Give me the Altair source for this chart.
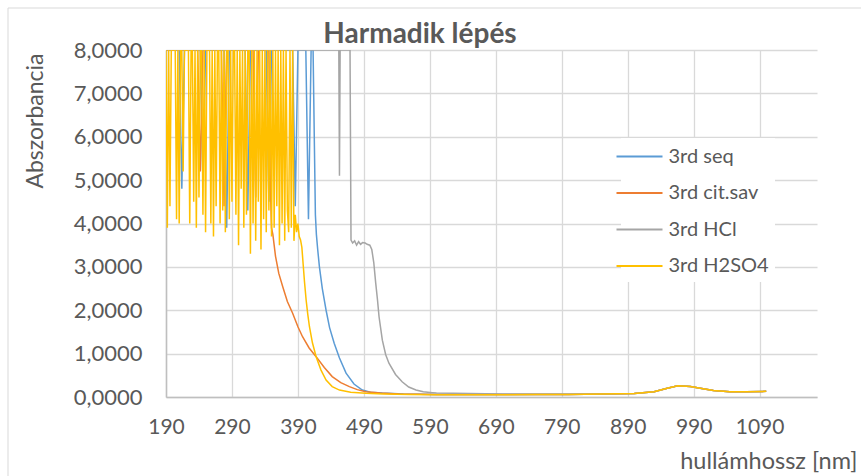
import altair as alt
import pandas as pd

series_names = ["3rd seq", "3rd cit.sav", "3rd HCl", "3rd H2SO4"]
series_colors = ["#5B9BD5", "#ED7D31", "#A5A5A5", "#FFC000"]

x_ticks = [190, 290, 390, 490, 590, 690, 790, 890, 990, 1090]
y_ticks = [0, 1, 2, 3, 4, 5, 6, 7, 8]

chart_title = "Harmadik lépés"

# common long-wavelength sampling points
tail_nm = [600, 650, 700, 750, 800, 850, 900, 930, 950, 966, 985, 1000, 1020, 1045, 1070, 1100]

# ---- 3rd seq (saturated/noisy part: every 4 nm from 190 nm) ----
seq_noise_start, seq_noise_step = 190, 4
seq_noise = [8.0, 8.0, 8.0, 8.0, 8.0, 8.0, 4.8, 8.0, 8.0, 8.0,
             8.0, 8.0, 8.0, 8.0, 5.0, 8.0, 8.0, 8.0, 8.0, 8.0,
             8.0, 8.0, 8.0, 3.9, 8.0, 8.0, 8.0, 8.0, 8.0, 8.0,
             8.0, 4.3, 8.0, 8.0, 8.0, 8.0, 8.0, 8.0, 8.0, 4.5,
             8.0, 8.0, 8.0, 8.0, 8.0, 8.0, 8.0, 8.0, 8.0, 4.4,
             8.0, 8.0, 8.0, 8.0, 4.1, 8.0]
seq_nm = [413, 415, 416.5, 418, 420, 422.6, 427, 432.7, 438, 445, 453, 463, 475, 487.6, 500, 518, 550]
seq_val = [8.0, 5.8, 4.2, 3.75, 3.4, 3.0, 2.5, 2.0, 1.6, 1.24, 0.9, 0.55, 0.3, 0.16, 0.11, 0.09, 0.07]
seq_tail = [0.06, 0.06, 0.06, 0.06, 0.06, 0.07, 0.08, 0.12, 0.2, 0.26, 0.24, 0.2, 0.15, 0.12, 0.12, 0.13]

# ---- 3rd cit.sav ----
cit_noise_start, cit_noise_step = 190, 4
cit_noise = [8.0, 8.0, 8.0, 8.0, 8.0, 8.0, 8.0, 8.0, 8.0, 8.0,
             8.0, 8.0, 8.0, 5.2, 8.0, 8.0, 8.0, 8.0, 8.0, 8.0,
             8.0, 8.0, 4.4, 8.0, 8.0, 8.0, 8.0, 8.0, 8.0, 8.0,
             8.0, 8.0, 8.0, 8.0, 4.6, 8.0, 8.0, 8.0, 8.0, 8.0]
cit_nm = [348, 350, 352, 356, 361, 367, 374, 382, 390, 397, 407, 417.6, 430, 442, 455, 468, 480, 493, 515, 543]
cit_val = [5.0, 3.9, 3.75, 3.25, 2.85, 2.54, 2.2, 1.93, 1.62, 1.39, 1.13, 0.93, 0.68, 0.47, 0.33, 0.24, 0.17, 0.12, 0.09, 0.07]
cit_tail = [0.06, 0.06, 0.06, 0.06, 0.06, 0.07, 0.08, 0.12, 0.2, 0.26, 0.24, 0.2, 0.15, 0.12, 0.12, 0.13]

# ---- 3rd HCl ----
hcl_noise_start, hcl_noise_step = 190, 4
hcl_noise = []
hcl_nm = [190, 452, 453, 454, 469, 470.5, 473, 476, 479, 482, 485, 488, 492, 495, 499, 502,
          505, 508, 510.7, 513, 518, 523, 528, 538, 548, 558, 569, 580, 594]
hcl_val = [8.0, 8.0, 5.1, 8.0, 8.0, 3.62, 3.55, 3.6, 3.5, 3.58, 3.52, 3.56, 3.55, 3.52, 3.5, 3.4,
           3.1, 2.62, 2.23, 1.85, 1.31, 0.98, 0.78, 0.52, 0.35, 0.23, 0.16, 0.12, 0.1]
hcl_tail = [0.09, 0.08, 0.07, 0.07, 0.07, 0.07, 0.08, 0.12, 0.2, 0.26, 0.24, 0.2, 0.15, 0.12, 0.12, 0.13]

# ---- 3rd H2SO4 (noisy part: every 2 nm from 190 nm) ----
h2so4_noise_start, h2so4_noise_step = 190, 2
h2so4_noise = [8.0, 3.9, 8.0, 4.4, 8.0, 8.0, 8.0, 8.0, 4.1, 8.0,
               4.0, 8.0, 8.0, 5.2, 8.0, 8.0, 8.0, 8.0, 4.0, 8.0,
               8.0, 4.5, 8.0, 3.9, 8.0, 4.6, 8.0, 8.0, 4.2, 8.0,
               3.8, 8.0, 8.0, 8.0, 4.0, 8.0, 3.7, 8.0, 4.4, 8.0,
               8.0, 4.0, 8.0, 4.3, 8.0, 3.8, 8.0, 8.0, 4.1, 8.0,
               4.5, 8.0, 8.0, 4.2, 8.0, 3.5, 8.0, 4.8, 8.0, 3.9,
               8.0, 4.2, 8.0, 8.0, 3.3, 8.0, 4.0, 8.0, 3.6, 8.0,
               4.5, 8.0, 3.4, 8.0, 4.1, 8.0, 3.8, 8.0, 4.3, 8.0,
               3.7, 8.0, 3.9, 8.0, 4.4, 8.0, 3.5, 8.0, 4.0, 8.0,
               3.6, 8.0, 4.3, 3.8, 8.0, 3.9, 8.0, 3.6, 4.2, 3.8,
               4.0, 3.7]
h2so4_nm = [394, 396, 398, 400, 402.5, 405, 407.5, 412, 417.6, 425, 432.7, 442, 453, 470, 493, 520, 560]
h2so4_val = [3.62, 3.45, 3.05, 2.65, 2.23, 1.9, 1.62, 1.25, 0.93, 0.62, 0.39, 0.24, 0.16, 0.11, 0.085, 0.07, 0.06]
h2so4_tail = [0.05, 0.05, 0.05, 0.06, 0.06, 0.07, 0.08, 0.12, 0.2, 0.26, 0.24, 0.2, 0.15, 0.12, 0.12, 0.13]


def build(name, start, step, noise, nm, val, tail):
    xs = [start + step * i for i in range(len(noise))] + nm + tail_nm
    ys = noise + val + tail
    return pd.DataFrame({"nm": xs, "A": ys, "series": name})


frames = [
    build(series_names[0], seq_noise_start, seq_noise_step, seq_noise, seq_nm, seq_val, seq_tail),
    build(series_names[1], cit_noise_start, cit_noise_step, cit_noise, cit_nm, cit_val, cit_tail),
    build(series_names[2], hcl_noise_start, hcl_noise_step, hcl_noise, hcl_nm, hcl_val, hcl_tail),
    build(series_names[3], h2so4_noise_start, h2so4_noise_step, h2so4_noise, h2so4_nm, h2so4_val, h2so4_tail),
]

FONT = "Lato"
TXT = "#595959"

x_enc = alt.X(
    "nm:Q",
    scale=alt.Scale(domain=[190, 1177], nice=False, zero=False),
    axis=alt.Axis(
        values=x_ticks, format="d", title="hullámhossz [nm]", labelPadding=19,
        labelFlush=False, labelOverlap=False, titleFontSize=23.5,
        titleX=691, titleY=71, titleAlign="right", titleBaseline="alphabetic",
    ),
)
y_enc = alt.Y(
    "A:Q",
    scale=alt.Scale(domain=[0, 8], nice=False),
    axis=alt.Axis(
        values=y_ticks, title="Abszorbancia", labelPadding=24, labelFontSize=22,
        labelExpr="replace(format(datum.value, '.4f'), '.', ',')", titleFontSize=23,
        titleX=-131, titleY=3, titleAlign="right", titleBaseline="middle",
    ),
)
color_enc = alt.Color(
    "series:N",
    scale=alt.Scale(domain=series_names, range=series_colors),
    legend=alt.Legend(
        title=None, orient="none", legendX=455, legendY=88,
        fillColor="white", padding=6, symbolType="M-2,0H2", symbolSize=529,
        symbolStrokeWidth=2, labelOffset=16.5, labelFont=FONT, labelFontSize=20,
        labelColor=TXT, rowPadding=13.5,
    ),
)

lines = [
    alt.Chart(df).mark_line(clip=True, strokeWidth=1.5).encode(x=x_enc, y=y_enc, color=color_enc)
    for df in frames
]

one = pd.DataFrame({"k": [0]})
border_top = alt.Chart(one).mark_rule(color="#d9d9d9", strokeWidth=1).encode(
    x=alt.value(-158), x2=alt.value(720), y=alt.value(-42))
border_left = alt.Chart(one).mark_rule(color="#d9d9d9", strokeWidth=1).encode(
    x=alt.value(-158), y=alt.value(-42), y2=alt.value(460))
title_mark = alt.Chart(one).mark_text(
    font=FONT, fontSize=28, fontWeight="bold", color=TXT, align="center", baseline="alphabetic"
).encode(x=alt.value(254), y=alt.value(-7), text=alt.value(chart_title))

chart = alt.layer(border_top, border_left, *lines, title_mark).properties(
    width=651, height=347,
    padding={"left": 166, "top": 50, "right": 44, "bottom": 79},
    autosize=alt.AutoSizeParams(type="none"),
    background="white",
).configure_view(stroke=None).configure_axis(
    labelFont=FONT, labelFontSize=21, labelColor=TXT,
    titleFont=FONT, titleFontSize=21, titleColor=TXT, titleFontWeight="normal",
    gridColor="#d9d9d9", gridWidth=1.3, domainColor="#bfbfbf", domainWidth=1.5,
    ticks=False,
)

chart.save("out.html", embed_options={"renderer": "svg", "actions": False})
